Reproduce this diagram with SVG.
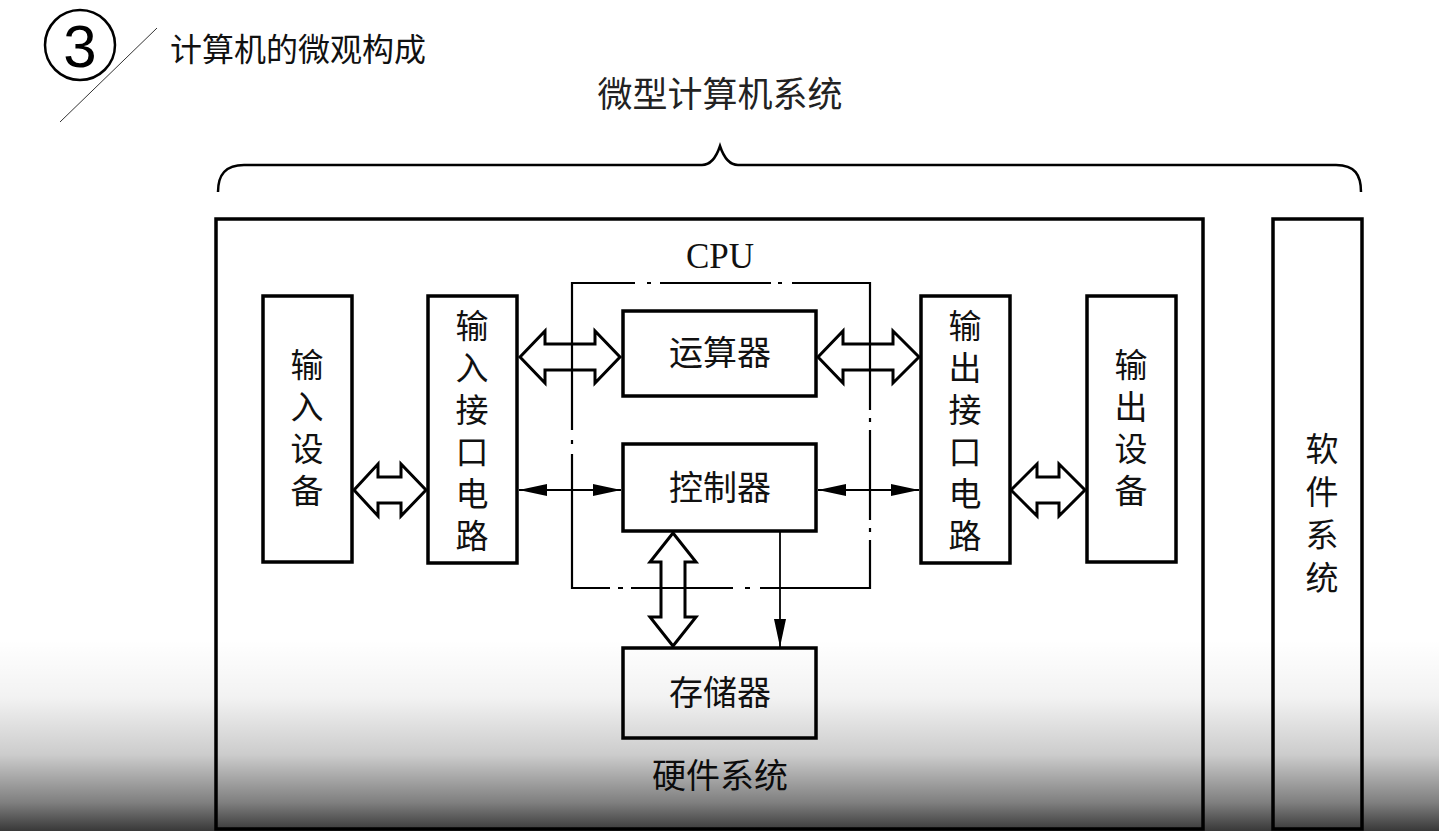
<svg xmlns="http://www.w3.org/2000/svg" width="1439" height="831" viewBox="0 0 1439 831">
<style>
.box{fill:none;stroke:#000;stroke-width:3.5}
.fat{fill:#fff;stroke:#000;stroke-width:3;stroke-linejoin:miter}
.thin{fill:none;stroke:#000;stroke-width:1.8}
.cpu{fill:none;stroke:#000;stroke-width:2.2}
.cnv{font-family:"Noto Sans CJK SC","Noto Sans",sans-serif;font-size:33px;fill:#111;writing-mode:vertical-rl;letter-spacing:9px}
.cnh{font-family:"Noto Sans CJK SC","Noto Sans",sans-serif;font-size:34px;fill:#111;text-anchor:middle}
</style>
<defs>
<marker id="ah" viewBox="0 0 28 12" refX="28" refY="6" markerWidth="28" markerHeight="12" markerUnits="userSpaceOnUse" orient="auto-start-reverse">
<path d="M0,0 L28,6 L0,12 z" fill="#000"/>
</marker>
<linearGradient id="shade" gradientUnits="userSpaceOnUse" x1="0" y1="640" x2="0" y2="831">
<stop offset="0" stop-color="#000" stop-opacity="0"/>
<stop offset="0.3" stop-color="#000" stop-opacity="0.05"/>
<stop offset="0.6" stop-color="#000" stop-opacity="0.2"/>
<stop offset="0.85" stop-color="#000" stop-opacity="0.5"/>
<stop offset="1" stop-color="#000" stop-opacity="0.78"/>
</linearGradient>
</defs>
<rect width="1439" height="831" fill="#fff"/>

<g id="header">
<circle cx="80" cy="45" r="35" fill="none" stroke="#000" stroke-width="2.5"/>
<text x="80" y="67" font-family="Liberation Sans, sans-serif" font-size="60" text-anchor="middle" fill="#000">3</text>
<line x1="157" y1="28" x2="60" y2="122" stroke="#333" stroke-width="1"/>
<text x="170" y="61" font-family="Noto Sans CJK SC, sans-serif" font-size="32" fill="#111">计算机的微观构成</text>
</g>

<g id="micro-system-label">
<text x="720" y="107" font-family="Noto Sans CJK SC, sans-serif" font-size="35" fill="#222" text-anchor="middle">微型计算机系统</text>
<path d="M218,192 C218,175 225,165 244,165 L702,165 C710,165 716,158 720,146 C724,158 730,165 738,165 L1336,165 C1355,165 1361,175 1361,192" fill="none" stroke="#000" stroke-width="2.5"/>
</g>

<g id="hardware">
<rect class="box" x="216" y="219" width="987" height="610"/>
<text class="cnh" x="720" y="788">硬件系统</text>
</g>

<g id="software">
<rect class="box" x="1273" y="219" width="89" height="610"/>
<text class="cnv" x="1322" y="432" style="letter-spacing:10px">软件系统</text>
</g>

<g id="input-device">
<rect class="box" x="263" y="296" width="89" height="266"/>
<text class="cnv" x="307" y="348">输入设备</text>
</g>

<g id="input-interface">
<rect class="box" x="428" y="296" width="89" height="267"/>
<text class="cnv" x="472" y="309">输入接口电路</text>
</g>

<g id="alu">
<rect class="box" x="623" y="311" width="193" height="85"/>
<text class="cnh" x="720" y="365">运算器</text>
</g>

<g id="controller">
<rect class="box" x="623" y="444" width="193" height="87"/>
<text class="cnh" x="720" y="500">控制器</text>
</g>

<g id="memory">
<rect class="box" x="623" y="648" width="193" height="90"/>
<text class="cnh" x="720" y="705">存储器</text>
</g>

<g id="output-interface">
<rect class="box" x="921" y="296" width="89" height="267"/>
<text class="cnv" x="965" y="309">输出接口电路</text>
</g>

<g id="output-device">
<rect class="box" x="1087" y="296" width="89" height="266"/>
<text class="cnv" x="1131" y="348">输出设备</text>
</g>

<g id="connectors">
<polygon class="fat" points="354,490 378,464 378,477 401,477 401,464 426,490 401,516 401,503 378,503 378,516"/>
<polygon class="fat" points="520,357 545,331 545,344 595,344 595,331 620,357 595,383 595,370 545,370 545,383"/>
<polygon class="fat" points="818,357 843,331 843,344 893,344 893,331 919,357 893,383 893,370 843,370 843,383"/>
<polygon class="fat" points="1011,490 1037,464 1037,477 1059,477 1059,464 1085,490 1059,516 1059,503 1037,503 1037,516"/>
<polygon class="fat" points="673,533 696,562 685,562 685,617 696,617 673,646 650,617 661,617 661,562 650,562"/>
<line class="thin" x1="519" y1="490" x2="621" y2="490" marker-start="url(#ah)" marker-end="url(#ah)"/>
<line class="thin" x1="818" y1="490" x2="919" y2="490" marker-start="url(#ah)" marker-end="url(#ah)"/>
<line class="thin" x1="780" y1="532" x2="780" y2="647" marker-end="url(#ah)"/>
</g>

<g id="cpu">
<text x="720" y="268" font-family="Liberation Serif, serif" font-size="35" text-anchor="middle" fill="#111">CPU</text>
<path class="cpu" d="M635,283 L572,283 L572,430 M572,440 L572,444 M572,454 L572,588 L610,588 M618,588 L623,588 M631,588 L733,588 M745,588 L750,588 M760,588 L870,588 L870,540 M870,532 L870,528 M870,520 L870,430 M870,422 L870,418 M870,410 L870,283 L792,283 M782,283 L778,283 M771,283 L660,283 M651,283 L647,283"/>
</g>

<rect id="shade-overlay" x="0" y="640" width="1439" height="191" fill="url(#shade)"/>
</svg>
